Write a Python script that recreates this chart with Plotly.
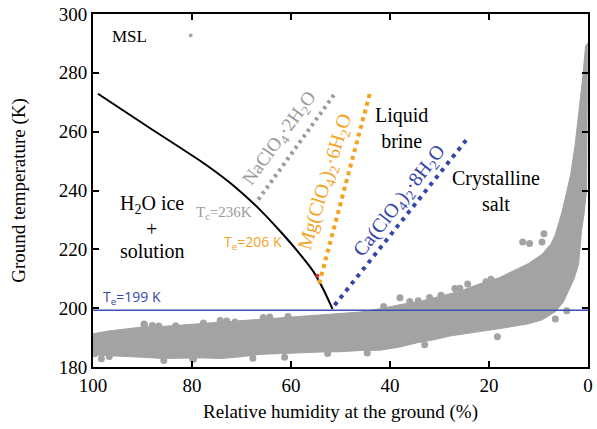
import plotly.graph_objects as go

# ---------------- data ----------------
# MSL ground observations: envelope of the dense point cloud (RH %, T K)
cloud_rh = [100, 97, 94, 90, 86, 82, 78, 74, 70, 66, 62, 58, 54, 50, 46, 42, 38, 34, 30, 26,
            22, 18, 14.6, 12, 9.3, 7.5, 6.6, 5.3, 4.3, 3.5, 2.6, 2.0, 1.5, 1.0, 0.5, 0.15,
            0.15, 0.2, 0.3, 0.8, 1.3, 1.9, 2.8, 3.9, 5.0, 6.6,
            9.3, 12, 14.6, 18, 21.3, 25, 28, 31, 34.6, 38, 42, 46, 50, 54, 58, 62, 66, 70,
            74, 78, 82, 86, 90, 94, 97, 100]
cloud_t = [191.3, 192.2, 192.8, 193.6, 193.8, 194.3, 194.9, 195.4, 195.8, 196.4, 196.9, 197.3,
           197.9, 198.3, 198.7, 199.8, 201.2, 202.3, 204.0, 205.7, 208.2, 210.3, 213.1, 215.2,
           218.3, 221.8, 225.0, 232.5, 239.5, 245.5, 255.5, 264.5, 271.5, 279.5, 289.0, 290.0,
           270.0, 250.0, 240.0, 232.0, 226.4, 215.0, 210.0, 206.0, 202.0, 198.8,
           196.0, 194.7, 193.9, 193.0, 192.2, 191.2, 190.5, 189.3, 188.2, 186.8, 185.7, 185.6,
           185.2, 185.1, 184.8, 184.6, 184.3, 183.5, 182.9, 183.1, 183.1, 182.9, 183.3, 183.6,
           183.9, 184.1]
# scattered individual observations at the cloud edges
out_rh = [99.7, 98.6, 98.3, 96.7, 89.7, 89.6, 88, 86.7, 85.7, 83.3, 79.9, 79.7, 77.7, 74.3, 73, 71.3,
          67.7, 65.6, 64.3, 61.3, 60.6, 52.6, 44.6, 41.3, 38, 36, 34.3, 33, 32, 29.7, 26.9, 25.9,
          24.3, 20.6, 19.6, 18.3, 13.2, 11.8, 9.3, 8.9, 6.6, 4.3]
out_t = [184.5, 188.6, 182.8, 183.6, 194.6, 194.4, 194.1, 193.9, 182.2, 194.0, 182.9, 182.6, 195.0,
         195.8, 195.6, 195.3, 183.0, 196.8, 197.0, 183.3, 197.2, 184.6, 184.8, 200.6, 203.5, 202.3,
         202.5, 187.6, 203.6, 204.4, 206.7, 206.8, 208.2, 209.0, 209.8, 190.3, 222.5, 222.0, 222.5,
         225.3, 196.3, 199.1]

# H2O ice liquidus
ice_rh = [99, 88.3, 77.4, 71, 66, 62, 58.5, 55.5, 53.5, 51.6]
ice_t = [272.9, 261.0, 249.0, 240.8, 233.0, 225.8, 219.0, 212.5, 206.5, 199.7]

# salt solubility lines
na_rh = [66.6, 51.2]
na_t = [236.9, 272.8]
mg_rh = [54.3, 43.9]
mg_t = [208.4, 274.1]
ca_rh = [51.2, 24.2]
ca_t = [201.0, 258.0]

# eutectic temperature of Ca(ClO4)2, junction marks
te_ca = 199.3
junc_rh = [54.7]
junc_t = [211.0]

MSL_GRAY = "#a3a3a3"
ORANGE = "#f6a21e"
BLUE = "#3446a8"
LGRAY = "#9a9a9a"
SERIF = "Liberation Serif, Times New Roman, Times, serif"
SANS = "Open Sans, Liberation Sans, sans-serif"

fig = go.Figure()
fig.add_trace(go.Scatter(x=cloud_rh, y=cloud_t, mode="lines", fill="toself",
                         fillcolor=MSL_GRAY, line=dict(width=1, color=MSL_GRAY),
                         hoverinfo="skip", showlegend=False))
fig.add_trace(go.Scatter(x=out_rh, y=out_t, mode="markers",
                         marker=dict(size=7, color=MSL_GRAY), showlegend=False))
fig.add_trace(go.Scatter(x=ice_rh, y=ice_t, mode="lines",
                         line=dict(color="black", width=2, shape="spline", smoothing=0.6),
                         showlegend=False))
fig.add_trace(go.Scatter(x=na_rh, y=na_t, mode="lines",
                         line=dict(color=LGRAY, width=4, dash="3px,4px"), showlegend=False))
fig.add_trace(go.Scatter(x=mg_rh, y=mg_t, mode="lines",
                         line=dict(color=ORANGE, width=4, dash="4px,4px"), showlegend=False))
fig.add_trace(go.Scatter(x=ca_rh, y=ca_t, mode="lines",
                         line=dict(color=BLUE, width=4, dash="4px,5px"), showlegend=False))
fig.add_trace(go.Scatter(x=junc_rh, y=junc_t, mode="markers",
                         marker=dict(size=4, color="#e8202a"), showlegend=False))

fig.add_shape(type="line", xref="paper", x0=0, x1=1, yref="y", y0=te_ca, y1=te_ca,
              line=dict(color="#3c4fb5", width=1.5))
# MSL legend key
fig.add_shape(type="circle", xref="paper", yref="paper", x0=0.1934, x1=0.2014,
              y0=0.934, y1=0.945, fillcolor=MSL_GRAY, line=dict(width=0))

def ann(x, y, text, size=20, color="black", family=SERIF, angle=0):
    fig.add_annotation(x=x, y=y, text=text, showarrow=False, textangle=angle,
                       font=dict(size=size, color=color, family=family),
                       xanchor="center", yanchor="middle")

ann(92.7, 292.5, "MSL", size=17)
ann(62.3, 257.5, "NaClO<sub>4</sub>·2H<sub>2</sub>O", size=19, color=LGRAY, angle=-54)
ann(53.1, 242.8, "Mg(ClO<sub>4</sub>)<sub>2</sub>·6H<sub>2</sub>O", size=20, color=ORANGE, angle=-73)
ann(38.1, 236.4, "Ca(ClO<sub>4</sub>)<sub>2</sub>·8H<sub>2</sub>O", size=20, color=BLUE, angle=-52)
ann(37.6, 261.2, "Liquid<br>brine", size=20)
ann(18.6, 240.0, "Crystalline<br>salt", size=20)
ann(88.1, 235.4, "H<sub>2</sub>O ice", size=20)
ann(88.1, 227.0, "+", size=20)
ann(88.1, 219.5, "solution", size=20)
ann(73.6, 232.3, "T<sub>c</sub>=236K", size=15, color=LGRAY)
ann(67.6, 222.4, "T<sub>e</sub>=206 K", size=14, color=ORANGE, family=SANS)
ann(92.2, 203.7, "T<sub>e</sub>=199 K", size=14, color=BLUE, family=SANS)

axis_common = dict(showline=True, linecolor="black", linewidth=2, mirror="ticks",
                   ticks="inside", ticklen=6, tickwidth=1.5, tickcolor="black",
                   showgrid=False, zeroline=False,
                   tickfont=dict(family=SERIF, size=19, color="black"))
fig.update_layout(
    width=597, height=429,
    margin=dict(l=93, r=4, t=13, b=62),
    paper_bgcolor="white", plot_bgcolor="white",
    showlegend=False,
    xaxis=dict(range=[100, 0], tickvals=[100, 80, 60, 40, 20, 0],
               title=dict(text="Relative humidity at the ground (%)",
                          font=dict(family=SERIF, size=19, color="black"), standoff=10),
               **axis_common),
    yaxis=dict(range=[180, 300], tickvals=[180, 200, 220, 240, 260, 280, 300],
               title=dict(text="Ground temperature (K)",
                          font=dict(family=SERIF, size=19, color="black"), standoff=28),
               **axis_common),
)
fig.write_html("out.html")
